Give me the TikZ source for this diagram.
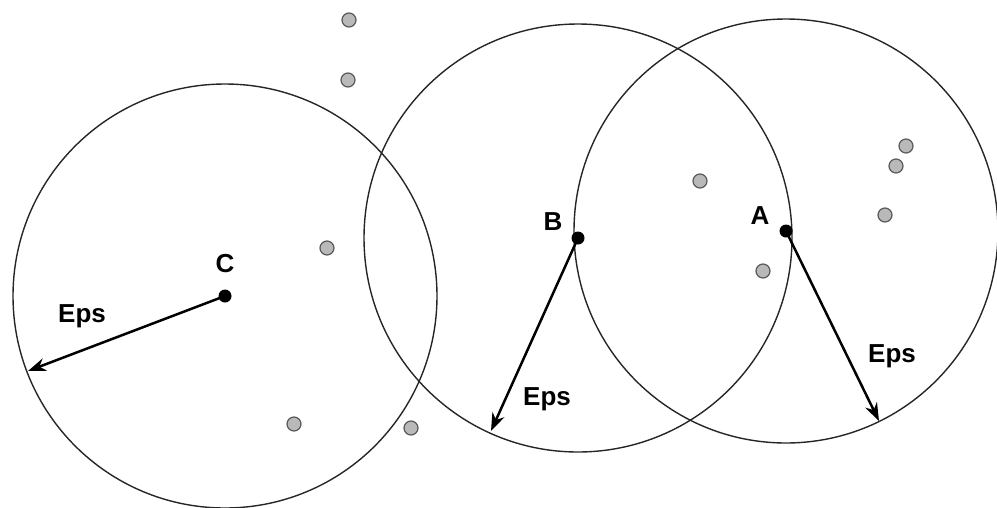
\documentclass[tikz,border=0pt]{standalone}
\usepackage{fontspec}
\setmainfont{Liberation Sans}
\usetikzlibrary{arrows.meta}
\tikzset{
  core/.style={circle,fill=black,inner sep=0pt,minimum size=13pt},
  other/.style={circle,draw=gray!70!black,fill=gray!55,line width=1.2pt,inner sep=0pt,minimum size=14pt},
  hood/.style={draw=black!85,line width=1.4pt},
  eps/.style={-{Stealth[length=18pt,width=13pt]},line width=2.5pt},
  lbl/.style={font=\fontsize{26}{30}\selectfont\bfseries}
}
\begin{document}
\begin{tikzpicture}[x=1pt,y=-1pt]
    \useasboundingbox (0,0) rectangle (997,507);
    % neighbourhoods
    \draw[hood] (225,296) circle[radius=212];
    \draw[hood] (578,238) circle[radius=214];
    \draw[hood] (786,231) circle[radius=212];
    % core points
    \node[core] (C) at (225,296) {}; \node[lbl] (Clbl) at (225,264) {C};
    \node[core] (B) at (578,238) {}; \node[lbl] (Blbl) at (553,222) {B};
    \node[core] (A) at (786,231) {}; \node[lbl] (Albl) at (760,216) {A};
    % radius arrows
    \coordinate (Cend) at (28,371);
    \coordinate (Bend) at (491,431);
    \coordinate (Aend) at (879,421);
    \draw[eps] (C.center) -- (Cend); \node[lbl] (Ceps) at (82,316) {Eps};
    \draw[eps] (B.center) -- (Bend); \node[lbl] (Beps) at (547,399) {Eps};
    \draw[eps] (A.center) -- (Aend); \node[lbl] (Aeps) at (892,356) {Eps};
    % remaining points
    \foreach \px/\py [count=\i] in {349/20, 348/80, 327/248, 294/424, 411/428,
        700/181, 763/271, 906/146, 896/166, 885/215}
      \node[other] (p\i) at (\px,\py) {};
  \end{tikzpicture}
\end{document}
